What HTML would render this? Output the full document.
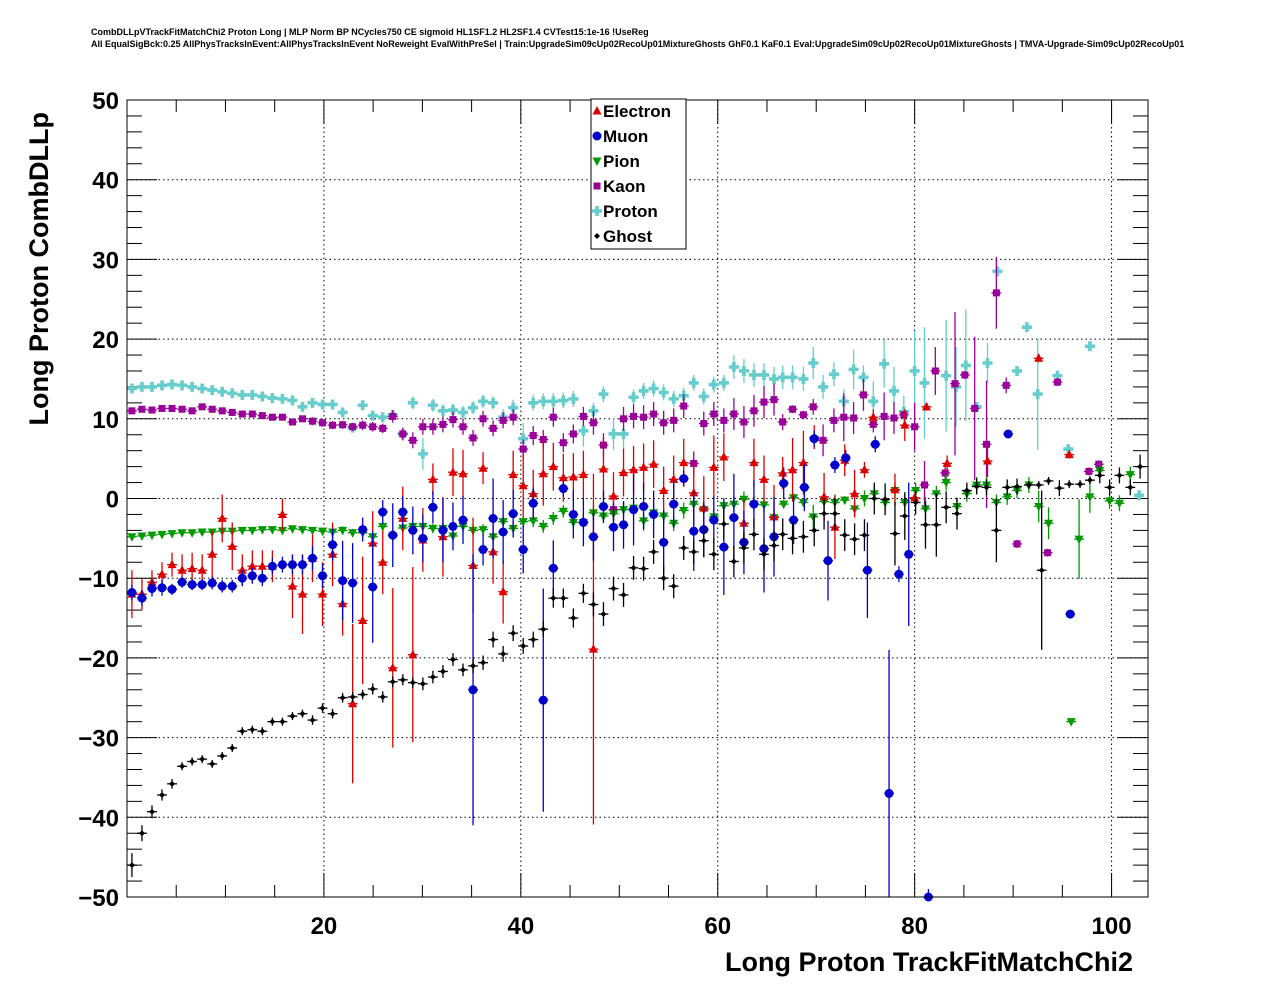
<!DOCTYPE html>
<html><head><meta charset="utf-8">
<style>
html,body{margin:0;padding:0;background:#fff;}
svg{display:block;font-family:"Liberation Sans",sans-serif;}
</style></head>
<body>
<svg id="chart" width="1276" height="996" viewBox="0 0 1276 996" xmlns="http://www.w3.org/2000/svg">
<rect width="1276" height="996" fill="#fff"/>
<text x="91" y="35" font-size="9" font-weight="bold">CombDLLpVTrackFitMatchChi2 Proton Long | MLP Norm BP NCycles750 CE sigmoid HL1SF1.2 HL2SF1.4 CVTest15:1e-16 !UseReg</text>
<text x="91" y="47" font-size="9" font-weight="bold">All EqualSigBck:0.25 AllPhysTracksInEvent:AllPhysTracksInEvent NoReweight EvalWithPreSel | Train:UpgradeSim09cUp02RecoUp01MixtureGhosts GhF0.1 KaF0.1 Eval:UpgradeSim09cUp02RecoUp01MixtureGhosts | TMVA-Upgrade-Sim09cUp02RecoUp01</text>
<g id="grid"></g>
<g id="axes"></g>
<g id="marks"></g>
<rect x="127" y="100" width="1021" height="797" fill="none" stroke="#000" stroke-width="1"/>
<text transform="translate(48,112) rotate(-90)" text-anchor="end" font-size="27" font-weight="bold">Long Proton CombDLLp</text>
<text x="1133" y="971" text-anchor="end" font-size="27" font-weight="bold">Long Proton TrackFitMatchChi2</text>
<g id="legend"></g>
</svg>
<script>
const xMin = 0, xMax = 103.7, yMin = -50, yMax = 50;
const L = 127, R = 1148, T = 100, B = 897;
function sx(v){ return L + (v - xMin) / (xMax - xMin) * (R - L); }
function sy(v){ return B - (v - yMin) / (yMax - yMin) * (B - T); }
const xTicks = [20, 40, 60, 80, 100];
const yTicks = [-50, -40, -30, -20, -10, 0, 10, 20, 30, 40, 50];

const elecLeftY = [-12,-12,-10.5,-9.5,-8.3,-9,-8.8,-9,-7,-2.5,-6,-9,-8.5,-8.5,-8.5,-2,-11,-12,-7.5,-12,-7,
 -13.2,-25.75,-15.3,-5.6,-8,-21.25,-2.5,-19.6,-5.2,2.4,-4.8,3.3,3.1,-8.4,3.8,-6.7,-11.7,3,1.6,0.6,3.1,4,2.6,2.7,3,-18.9,3.7,0.3,3.25,
 3.6,3.9,4.3,1,2.4,4.5,0.7,-1.2,3.9,5.2,null,-3.1,4.5,2.4,-2.3];
const elecLeftE = [3,2,1.5,1.5,1.5,2,2,2,3,3,3,2,2,2,2,2,4,5,3,4,4,
 4,10,8,4,4,10,4,11,4,2,5,3,3,6,2,4,4,3,4,3,4,3,3,3,3,22,4,3,3,
 3,3,3,3,3,3,4,4,4,3,0,3,3,3,4];
const elecRightX = [66.6,67.6,68.7,69.8,70.8,71.9,72.9,73.9,74.9,75.8,78,79,80,81.2,83.3,87.4,92.6,95.7];
const elecRightY = [3.2,3.6,4.5,7.7,0.2,-3.6,4.8,0.6,3.6,10.2,1.1,9.2,0.1,11.5,4.4,4.7,17.6,5.5];
const elecRightE = [2,4,4,1.5,3,4,2,3,1,1,2,2,0.5,0.5,1,2,0.5,0.5];

const muonLeftY = [-11.8,-12.5,-11.3,-11.2,-11.4,-10.5,-10.8,-10.8,-10.6,-11,-11,-10,-9.7,-10,-8.5,-8.3,-8.3,-8.3,-7.5,-9.7,-5.8,
 -10.3,-10.6,-3.9,-11.1,-1.7,-4.6,-1.7,-4,-5,-1.1,-4,-3.5,-2.7,-24,-6.4,-2.5,-4.2,-1.9,-6.4,-0.6,-25.3,-8.75,1.25,-2,-3,-4.8,-1,-3.6,-3.3,
 -1.4,-1,-2,-5.5,-0.7,2.5,-4.1,-3.9,-2.7,-6.1,-2.4,-5.5,-0.7,-6.3,-4.8];
const muonLeftE = [1,1,1,1,0.7,0.7,0.7,0.7,0.8,0.8,0.8,1,1,1,1,1,1.2,1.2,1.5,1.5,2,
 5,5,1.5,7,1.5,4,2,3,3,2,4,3,3,17,2,5,4,3,3,2,14,3.5,1,3,3,3,2,3,3,
 4.5,3,3,4,3,1,5,3.5,3,6,5.5,4,3,5.5,5];
const muonRightX = [66.7,67.7,68.8,69.8,71.2,71.9,73,75.2,76,77.4,78.4,79.4,81.4,89.5,95.8];
const muonRightY = [1.9,-2.7,1.4,7.5,-7.8,4.2,5.1,-9,6.8,-37,-9.5,-7,-50,8.1,-14.5];
const muonRightE = [2,3,3,1,5,1,1,6,1,18,1,9,1,0.5,0.5];

const pionLeftY = [-4.8,-4.7,-4.6,-4.5,-4.4,-4.3,-4.3,-4.2,-4.2,-4.1,-4.1,-4.0,-4.0,-3.9,-3.9,-4.0,-3.8,-3.9,-4.0,-4.1,-4.2,
 -4,-4.3,-4.3,-4.8,-3.5,-4.7,-3.7,-3.5,-3.5,-3.75,-3.75,-4.7,-3.5,-4,-3.9,-4.8,-2.9,-3.75,-2.9,-2.8,-3.5,-2.5,-1.6,-3,-3,-1.8,-2.2,-1.9,-1.4,
 -1.2,-2.8,-1.8,-2.2,-3.1,-1.5,-0.7,-1.4,-2.3,-0.9,-0.7,-0.1,-0.7,-0.8,-2.4];
const pionLeftE = [0.3,0.3,0.3,0.3,0.3,0.3,0.3,0.3,0.3,0.3,0.3,0.3,0.3,0.3,0.3,0.4,0.4,0.4,0.4,0.4,0.4,
 0.5,0.5,0.5,0.5,0.5,0.6,0.6,0.6,0.6,0.6,0.6,0.7,0.7,0.7,0.7,0.7,0.7,0.8,0.8,0.8,0.8,0.8,0.8,0.8,0.9,0.9,0.9,0.9,0.9,
 1,1,1,1,1,1,1,1,1,1,1,1,1,1,1];
const pionRightX = [66.7,67.7,68.7,69.7,70.8,71.9,72.9,73.9,74.9,75.9,77,78,79,80.1,81.1,82.2,83.2,84.3,85.3,86.3,87.3,88.3,89.4,90.4,91.6,92.6,93.6,95.9,96.7,97.8,98.8,99.8,100.8,101.9];
const pionRightY = [-0.7,0.1,-0.5,-2.3,-0.4,-0.5,-0.2,-1.3,0,0.6,-0.5,1,-0.5,1,-1.3,0.6,2,-1,0.6,1.7,1.7,-0.5,0.2,1,1.7,-1,-3.1,-28,-5.1,0.2,3.5,-0.3,-0.6,3];
const pionRightE = [0.5,0.5,0.5,1.5,0.8,1,0.5,1,1,1,1,1,1,1,1.5,1,1,1,1,1,1,1,1,1,1,2,2,0.3,5,2,1,1,1,1];

const kaonLeftY = [11,11.2,11.1,11.3,11.3,11.2,11,11.5,11.2,11,10.8,10.6,10.6,10.4,10.2,10.2,9.6,10,9.7,9.5,9.2,
 9.25,9,9.2,9,8.8,10.3,8.1,7.3,9,9,9.3,9.9,9,7.6,10,8.8,9.8,10.2,6.2,7.9,7.4,10.2,7,8.1,10.3,9.5,6.7,-1.4,10,
 10.3,10.2,10.6,9.5,9.8,11.6,4.4,9.4,10.6,9.8,10.6,9.6,11,12.1,12.4];
const kaonLeftE = [0.3,0.3,0.3,0.3,0.3,0.3,0.3,0.3,0.3,0.3,0.3,0.3,0.3,0.4,0.4,0.4,0.4,0.4,0.5,0.5,0.5,
 0.5,0.5,0.6,0.6,0.6,0.8,0.8,1,1,1,1,1,1,1,1,1,1,1,1.2,1.2,1.2,1.2,1.2,1.2,1.2,1.5,1.5,1.5,1.5,
 1.5,1.5,1.5,1.5,1.5,1.5,1.5,1.5,1.5,1.5,2,2,2,2,2];
const kaonRightX = [66.6,67.6,68.7,69.7,70.7,71.8,72.8,73.8,74.8,75.8,76.9,77.9,78.9,80,81,82.1,83.1,84.1,85.1,86.1,87.3,88.3,89.3,90.4,93.5,94.5,97.7,98.7];
const kaonRightY = [9.6,11.2,10.5,11.5,7.3,9.8,10.2,10.1,13,9.3,10.3,10.1,10.5,9,1.7,16,3.2,14.4,15.5,11.3,6.8,25.8,14.2,-5.7,-6.8,14.6,3.4,4.3];
const kaonRightE = [1,0.5,0.5,1,2,1.5,3,2,2,1,3,2,0.5,3,3,3,1,9,0.5,9,8,4.5,1,0.5,0.5,0.5,0.5,0.5];

const protLeftY = [13.8,14,14,14.2,14.3,14.2,14,13.8,13.6,13.4,13.2,13,13,12.8,12.6,12.5,12.3,11.5,12,11.8,11.8,
 10.8,8.9,11.7,10.4,10.2,10.5,8.1,12,5.6,11.7,11,11.1,10.8,11.4,12.2,12,10.2,11.4,7.5,12,12.2,12.2,12.3,12.5,8.5,11,13.1,8.1,8.1,
 12.7,13.5,13.8,13.3,12.5,12.9,14.5,12.8,14.3,14.5,16.5,16,15.5,15.5,15];
const protLeftE = [0.3,0.3,0.3,0.3,0.3,0.3,0.3,0.3,0.3,0.3,0.3,0.3,0.3,0.3,0.3,0.4,0.4,0.4,0.4,0.4,0.5,
 0.5,0.5,0.5,0.5,0.6,0.6,0.8,0.8,2,0.8,0.8,0.8,0.8,0.8,0.8,0.8,1,1,2,1,1,1,1,1,2,1,1,2,2,
 1,1,1,1,1,1,1,1,1,1,1.5,1.5,1.5,1.5,1.5];
const protRightX = [66.6,67.6,68.7,69.7,70.7,71.8,72.8,73.8,74.8,75.8,76.9,77.9,78.9,80,81,83.2,84.2,85.2,86.3,87.4,88.4,90.4,91.4,92.5,94.5,95.6,97.8,102.8];
const protRightY = [15.2,15.2,15,17,14,15.6,12.2,16.2,15.2,12.2,16.9,13.5,10.9,16,14.5,15.4,14,16.7,11.5,17,28.5,16,21.5,13.1,15.4,6.2,19.1,0.4];
const protRightE = [1.5,1.5,1.5,2,1.5,1.5,1.5,2.5,1.5,2.5,3,3,2,5,7,7,5,7,0.5,2.5,0.5,0.5,0.5,7,0.5,0.5,0.5,0.5];

const ghostLeftY = [-46,-42,-39.3,-37.2,-35.8,-33.6,-33,-32.7,-33.3,-32.3,-31.3,-29.2,-29,-29.2,-28,-28,-27.3,-27,-27.8,-26.3,-27,
 -25,-24.9,-24.6,-23.9,-24.9,-23,-22.75,-23.1,-23.25,-22.4,-21.7,-20.2,-21.5,-21,-20.6,-17.7,-19.5,-16.9,-18.5,-17.7,-16.4,-12.5,-12.5,-15,-11.9,-13.3,-14.5,-11.3,-12.1,
 -8.7,-8.8,-6.7,-10,-11,-6.2,-6.7,-5.3,-7,-3.2,-7.9,-6.2,-4.5,-7,-5.9];
const ghostLeftE = [1.5,1,0.8,0.7,0.6,0.5,0.5,0.5,0.5,0.5,0.5,0.5,0.5,0.5,0.5,0.5,0.5,0.5,0.6,0.6,0.6,
 0.6,0.6,0.6,0.7,0.7,0.7,0.7,0.7,0.8,0.8,0.8,0.8,0.8,0.9,0.9,1,1,1,1,1,1,1.2,1.2,1.2,1.2,1.5,1.5,1.5,1.5,
 1.5,1.5,1.5,1.5,1.5,1.5,1.5,2,2,2,2,2,2,2,2];
const ghostRightX = [66.6,67.6,68.7,69.8,70.8,71.9,72.9,73.9,74.9,75.9,77,78,79,80.1,81.1,82.2,83.2,84.3,85.3,86.3,87.3,88.3,89.4,90.4,91.6,92.6,92.9,93.6,94.7,95.7,96.8,97.8,98.8,99.8,100.8,101.9,102.9];
const ghostRightY = [-4.5,-5,-4.8,-4,-1.9,-1.9,-4.6,-5.1,-4.6,0,-0.1,-4.4,-2.2,-0.5,-3.3,-3.3,-1.1,-1.9,1,1.5,1.4,-4,1.4,1.5,1.7,1.7,-9,2.2,1.3,1.8,1.8,2.3,2.9,1.4,2.9,1.4,4];
const ghostRightE = [2,2,2,2,2,2,2,2,2,2,2,4,3,1.5,3,4,2,2,1,1,1,4,1,1,0.5,0.5,10,0.5,1,0.5,0.5,0.5,1,1,1,1,1.5];

const seriesNames = ["Electron","Muon","Pion","Kaon","Proton","Ghost"];
const seriesColors = ["#dd0000","#0000cc","#009900","#990099","#66cccc","#000000"];

const NS = "http://www.w3.org/2000/svg";
function mk(tag, attrs, parent){ const e = document.createElementNS(NS, tag); for (const k in attrs) e.setAttribute(k, attrs[k]); parent.appendChild(e); return e; }
function fmt(t){ return t < 0 ? '\u2212' + Math.abs(t) : String(t); }

const grid = document.getElementById('grid'), axes = document.getElementById('axes');
xTicks.forEach(t => {
  const l = mk('line', {x1:sx(t), x2:sx(t), y1:T, y2:B, stroke:'#000', 'stroke-dasharray':'1.5,3', 'stroke-width':1}, grid);
  
  
  const lb = mk('text', {x:sx(t), y:B+37, 'text-anchor':'middle', 'font-size':24, 'font-weight':'bold'}, axes);
  lb.textContent = fmt(t);
  
  
});
yTicks.forEach(t => {
  if (t > yMin && t < yMax) {
    const l = mk('line', {x1:L, x2:R, y1:sy(t), y2:sy(t), stroke:'#000', 'stroke-dasharray':'1.5,3', 'stroke-width':1}, grid);
    
    
  }
  const lb = mk('text', {x:119, y:sy(t)+9, 'text-anchor':'end', 'font-size':24, 'font-weight':'bold'}, axes);
  lb.textContent = fmt(t);
  
  
});
for (let v = yMin; v <= yMax; v += 2) {
  const len = (v % 10 === 0) ? 30 : 15;
  mk('line', {x1:L, x2:L+len, y1:sy(v), y2:sy(v), stroke:'#000'}, axes);
  mk('line', {x1:R, x2:R-len, y1:sy(v), y2:sy(v), stroke:'#000'}, axes);
}
for (let v = 5; v <= xMax; v += 5) {
  const len = (v % 20 === 0) ? 24 : 12;
  mk('line', {x1:sx(v), x2:sx(v), y1:B, y2:B-len, stroke:'#000'}, axes);
  mk('line', {x1:sx(v), x2:sx(v), y1:T, y2:T+len, stroke:'#000'}, axes);
}

function marker(kind, cx, cy, color, parent){
  let e;
  if (kind === 0) e = mk('polygon', {points:`${cx},${cy-5} ${cx-4.5},${cy+3.5} ${cx+4.5},${cy+3.5}`, fill:color}, parent);
  else if (kind === 1) e = mk('circle', {cx:cx, cy:cy, r:4.5, fill:color}, parent);
  else if (kind === 2) e = mk('polygon', {points:`${cx-4.5},${cy-3.5} ${cx+4.5},${cy-3.5} ${cx},${cy+5}`, fill:color}, parent);
  else if (kind === 3) e = mk('rect', {x:cx-3.5, y:cy-3.5, width:7, height:7, fill:color}, parent);
  else if (kind === 4) e = mk('path', {d:`M${cx-5},${cy-1.8}h3.2v-3.2h3.6v3.2h3.2v3.6h-3.2v3.2h-3.6v-3.2h-3.2z`, fill:color}, parent);
  else e = mk('path', {d:`M${cx-3},${cy}L${cx},${cy-3}L${cx+3},${cy}L${cx},${cy+3}z`, fill:color}, parent);
  return e;
}

const marks = document.getElementById('marks');
function drawSeries(idx, xs, ys, es){
  const color = seriesColors[idx];
  const g = mk('g', {}, marks);
  
  
  for (let i = 0; i < ys.length; i++) {
    const x = xs[i], y = ys[i], e = es[i] || 0;
    if (y == null) continue;
    const cx = sx(x), cy = sy(y);
    const y1 = Math.max(T, sy(y + e)), y2 = Math.min(B, sy(y - e));
    mk('line', {x1:cx, x2:cx, y1:y1, y2:y2, stroke:color, 'stroke-width':1.3}, g);
    mk('line', {x1:sx(x-0.5), x2:sx(x+0.5), y1:cy, y2:cy, stroke:color, 'stroke-width':1.3}, g);
    const m = marker(idx, cx, cy, color, g);
    
    
  }
}
function binX(n){ return Array.from({length:n}, (_, k) => 0.5 + k * 1.019); }
drawSeries(4, binX(protLeftY.length), protLeftY, protLeftE);
drawSeries(4, protRightX, protRightY, protRightE);
drawSeries(3, binX(kaonLeftY.length), kaonLeftY, kaonLeftE);
drawSeries(3, kaonRightX, kaonRightY, kaonRightE);
drawSeries(2, binX(pionLeftY.length), pionLeftY, pionLeftE);
drawSeries(2, pionRightX, pionRightY, pionRightE);
drawSeries(0, binX(elecLeftY.length), elecLeftY, elecLeftE);
drawSeries(0, elecRightX, elecRightY, elecRightE);
drawSeries(1, binX(muonLeftY.length), muonLeftY, muonLeftE);
drawSeries(1, muonRightX, muonRightY, muonRightE);
drawSeries(5, binX(ghostLeftY.length), ghostLeftY, ghostLeftE);
drawSeries(5, ghostRightX, ghostRightY, ghostRightE);

const lg = document.getElementById('legend');
const box = mk('rect', {x:591, y:99, width:95, height:150, fill:'#fff', stroke:'#000', 'stroke-width':1}, lg);


seriesNames.forEach((n, i) => {
  const yy = 111 + i * 25;
  const m = marker(i, 597, yy, seriesColors[i], lg);
  
  
  const t = mk('text', {x:603, y:yy+6, 'font-size':17, 'font-weight':'bold'}, lg);
  t.textContent = n;
  
  
});
</script>
</body></html>
